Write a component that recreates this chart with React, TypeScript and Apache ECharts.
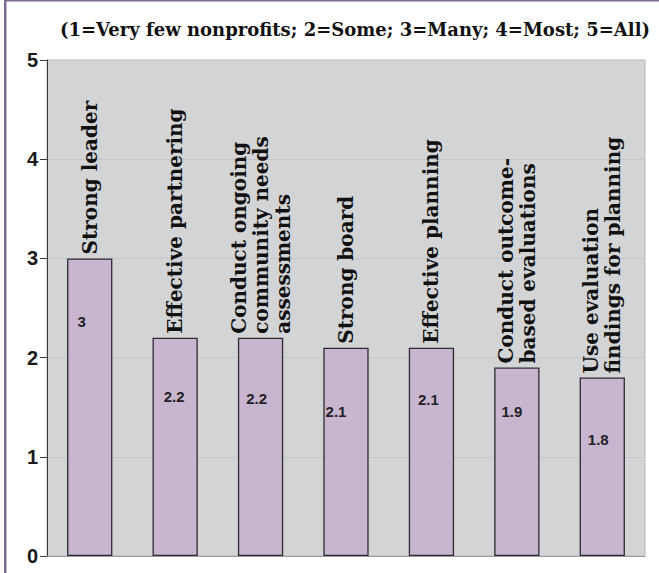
import React, { useEffect, useRef } from "react";
import * as echarts from "echarts";

const categories: string[] = [
  "Strong leader",
  "Effective partnering",
  "Conduct ongoing\ncommunity needs\nassessments",
  "Strong board",
  "Effective planning",
  "Conduct outcome-\nbased evaluations",
  "Use evaluation\nfindings for planning",
];
const values: number[] = [3, 2.2, 2.2, 2.1, 2.1, 1.9, 1.8];
const yMin = 0;
const yMax = 5;
const yInterval = 1;
const titleText = "(1=Very few nonprofits; 2=Some; 3=Many; 4=Most; 5=All)";

// label placement tweaks (style, not data)
const valueLabelOffsets: [number, number][] = [
  [-8, 56],
  [-1, 51],
  [-4, 53],
  [-10, 56],
  [-3, 44],
  [-5, 36],
  [-4, 55],
];

export default function App() {
  const ref = useRef<HTMLDivElement>(null);
  useEffect(() => {
    if (!ref.current) return;
    const chart = echarts.init(ref.current, undefined, { renderer: "svg" });
    const sansNarrow = "'Liberation Sans Narrow', 'Arial Narrow', 'Liberation Sans', sans-serif";
    const serif = "'DejaVu Serif', 'Liberation Serif', serif";
    chart.setOption({
      animation: false,
      backgroundColor: "#ffffff",
      title: {
        text: titleText,
        right: 4,
        top: 15,
        textStyle: {
          fontFamily: serif,
          fontWeight: "bold",
          fontSize: 18,
          color: "#111111",
        },
      },
      graphic: [
        { type: "rect", shape: { x: 4, y: 0, width: 2.5, height: 573 }, style: { fill: "#7D6B91" } },
        { type: "rect", shape: { x: 4, y: 0, width: 655, height: 1.5 }, style: { fill: "#7D6B91" } },
      ],
      grid: {
        left: 47,
        right: 14,
        top: 60,
        bottom: 17,
        show: true,
        backgroundColor: "#D3D4D6",
        borderColor: "#B4B6B9",
        borderWidth: 1,
        containLabel: false,
      },
      xAxis: {
        type: "category",
        data: categories,
        axisLine: { show: true, lineStyle: { color: "#9C9C9C", width: 1 } },
        axisTick: { show: false },
        axisLabel: { show: false },
        splitLine: { show: false },
      },
      yAxis: {
        type: "value",
        min: yMin,
        max: yMax,
        interval: yInterval,
        axisLine: { show: true, lineStyle: { color: "#3A3A3A", width: 1 } },
        axisTick: { show: true, length: 7, lineStyle: { color: "#3A3A3A" } },
        axisLabel: {
          margin: 9,
          fontFamily: sansNarrow,
          fontWeight: "bold",
          fontSize: 20,
          color: "#1A1A1A",
        },
        splitLine: { show: true, lineStyle: { color: "#C2C5CC", width: 1 } },
      },
      series: [
        {
          type: "bar",
          data: values.map((v, i) => ({
            value: v,
            label: { offset: valueLabelOffsets[i] },
          })),
          barCategoryGap: "47%",
          itemStyle: { color: "#C8B5D0", borderColor: "#2E2A30", borderWidth: 1.3 },
          label: {
            show: true,
            position: "insideTop",
            distance: 0,
            fontFamily: sansNarrow,
            fontWeight: "bold",
            fontSize: 15,
            color: "#222222",
          },
          z: 2,
        },
        {
          type: "bar",
          data: values,
          barGap: "-100%",
          barCategoryGap: "47%",
          itemStyle: { color: "rgba(0,0,0,0)", borderWidth: 0 },
          label: {
            show: true,
            position: "top",
            distance: 4,
            rotate: 90,
            align: "left",
            verticalAlign: "middle",
            formatter: (p: any) => categories[p.dataIndex],
            fontFamily: serif,
            fontWeight: "bold",
            fontSize: 20,
            lineHeight: 22,
            color: "#111111",
          },
          z: 3,
          silent: true,
        },
      ],
    });
    return () => chart.dispose();
  }, []);
  return (
    <div
      ref={ref}
      style={{ position: "absolute", left: 0, top: 0, width: 659, height: 573, background: "#fff" }}
    />
  );
}
